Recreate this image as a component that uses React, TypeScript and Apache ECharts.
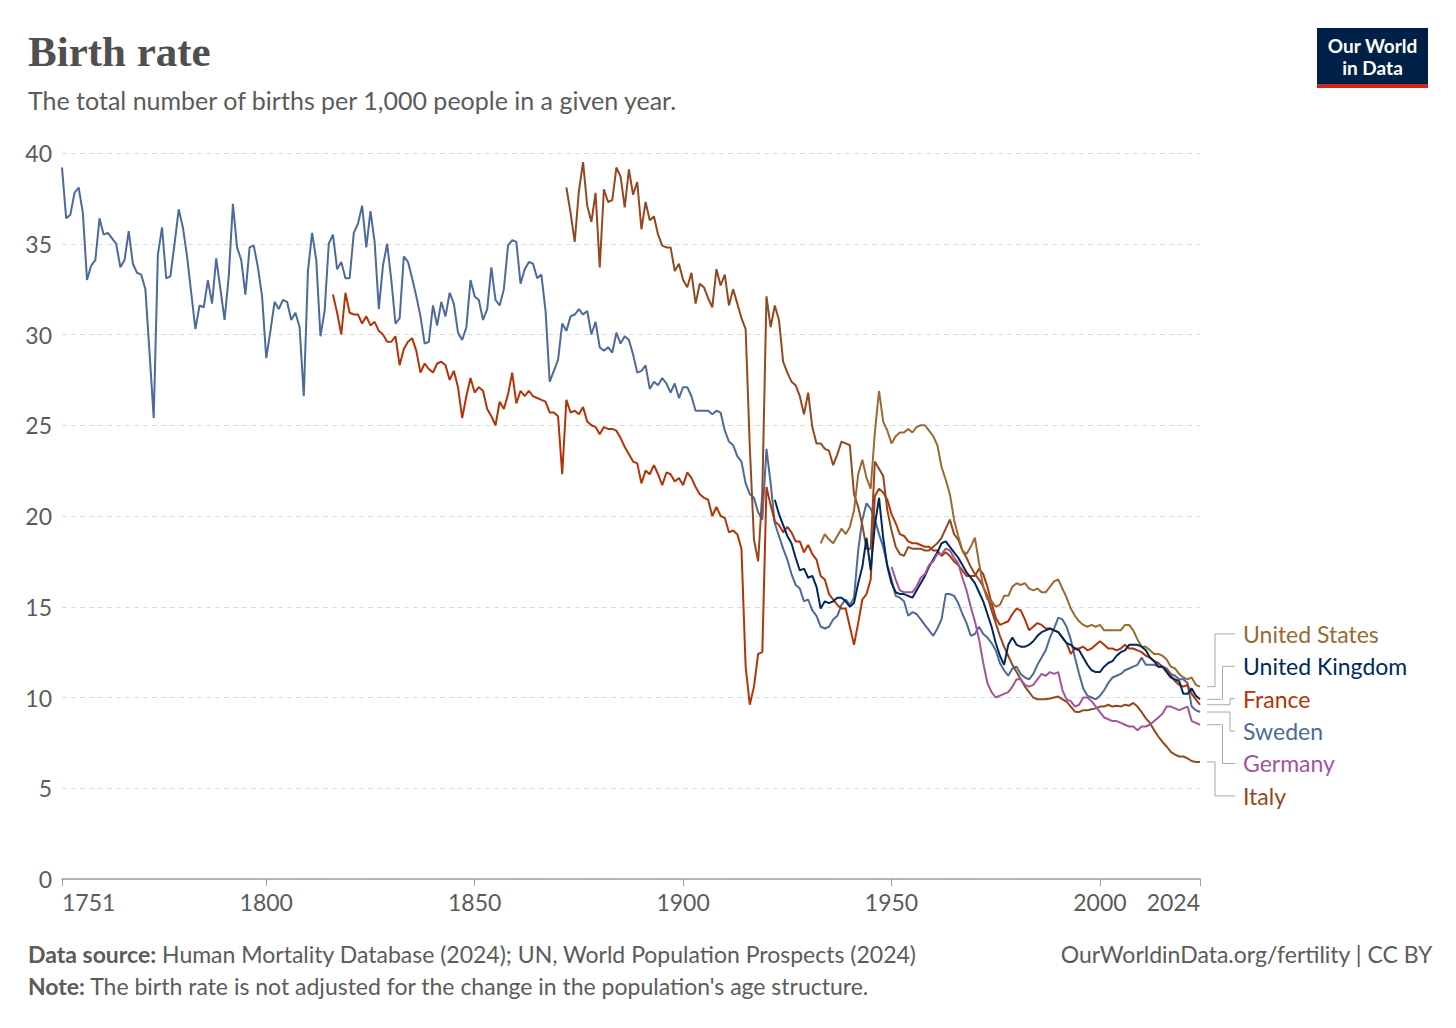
import React, { useRef, useEffect } from "react";
import * as echarts from "echarts";

// Birth rate per 1,000 people, one value per year from each start year
const swedenStart = 1751;
const sweden = [
  39.2, 36.4, 36.6, 37.8, 38.1, 36.7, 33.0, 33.8, 34.1, 36.4,
  35.5, 35.6, 35.3, 35.0, 33.7, 34.1, 35.7, 33.9, 33.4, 33.3,
  32.5, 29.0, 25.4, 34.4, 35.9, 33.1, 33.2, 35.0, 36.9, 35.9,
  34.3, 32.3, 30.3, 31.6, 31.5, 33.0, 31.7, 34.2, 32.5, 30.8,
  33.2, 37.2, 34.8, 34.1, 32.2, 34.8, 34.9, 33.7, 32.1, 28.7,
  30.2, 31.8, 31.4, 31.9, 31.8, 30.8, 31.2, 30.4, 26.6, 33.5,
  35.6, 34.1, 29.9, 31.3, 35.0, 35.5, 33.6, 34.0, 33.1, 33.1,
  35.6, 36.1, 37.1, 34.8, 36.8, 35.1, 31.4, 33.8, 35.0, 33.0,
  30.6, 30.9, 34.3, 34.0, 33.1, 32.1, 31.0, 29.5, 29.6, 31.6,
  30.5, 31.8, 31.0, 32.3, 31.7, 30.1, 29.7, 30.4, 33.0, 32.1,
  31.9, 30.8, 31.4, 33.7, 31.9, 31.6, 32.5, 34.9, 35.2, 35.1,
  32.8, 33.6, 34.0, 33.9, 33.1, 33.3, 31.3, 27.4, 28.0, 28.6,
  30.6, 30.2, 31.0, 31.1, 31.4, 31.1, 31.3, 30.0, 30.7, 29.3,
  29.1, 29.3, 29.0, 30.1, 29.5, 29.9, 29.7, 28.9, 27.9, 28.0,
  28.3, 27.0, 27.4, 27.2, 27.6, 27.3, 26.8, 27.3, 26.5, 27.1,
  27.1, 26.6, 25.8, 25.8, 25.8, 25.8, 25.6, 25.8, 25.7, 24.7,
  24.1, 23.9, 23.3, 23.0, 21.8, 21.2, 21.0, 20.2, 19.8, 23.7,
  21.8, 19.6, 18.9, 18.2, 17.6, 16.8, 16.2, 16.0, 15.3, 15.4,
  14.8, 14.5, 13.9, 13.8, 13.9, 14.3, 14.5, 15.1, 15.4, 15.1,
  15.5, 18.1, 19.8, 20.7, 20.4, 19.8, 19.0, 18.3, 17.3, 16.5,
  15.6, 15.5, 15.3, 14.5, 14.7, 14.6, 14.3, 14.0, 13.7, 13.4,
  13.8, 14.3, 15.7, 15.7, 15.6, 15.2, 14.6, 14.1, 13.4, 13.5,
  13.9, 13.5, 13.3, 13.0, 12.6, 11.9, 11.5, 11.2, 11.6, 11.7,
  11.3, 11.1, 11.0, 11.3, 11.8, 12.2, 12.6, 13.3, 13.8, 14.4,
  14.3, 13.9, 13.2, 12.2, 11.3, 10.5, 10.1, 10.0, 9.9, 10.1,
  10.4, 10.8, 11.1, 11.2, 11.3, 11.5, 11.6, 11.7, 11.8, 12.2,
  11.8, 11.8, 11.8, 11.7, 11.7, 11.6, 11.3, 11.2, 11.0, 11.0,
  10.8, 9.5, 9.3, 9.2,
];

const franceStart = 1816;
const france = [
  32.2, 31.2, 30.0, 32.3, 31.2,
  31.1, 31.1, 30.6, 31.0, 30.5, 30.7, 30.2, 30.0, 29.6, 29.6,
  29.9, 28.3, 29.2, 29.6, 29.8, 29.1, 27.9, 28.4, 28.1, 27.9,
  28.4, 28.5, 28.3, 27.5, 28.0, 27.1, 25.4, 26.6, 27.6, 26.8,
  27.1, 26.9, 25.9, 25.5, 25.0, 26.3, 25.9, 26.7, 27.9, 26.2,
  26.9, 26.6, 26.9, 26.6, 26.5, 26.4, 26.3, 25.7, 25.7, 25.5,
  22.3, 26.4, 25.7, 25.8, 25.6, 26.0, 25.2, 25.0, 24.9, 24.5,
  24.9, 24.8, 24.8, 24.7, 24.3, 23.8, 23.4, 23.0, 22.9, 21.8,
  22.5, 22.3, 22.8, 22.3, 21.7, 22.4, 22.3, 21.9, 22.1, 21.7,
  22.4, 22.1, 21.6, 21.2, 21.0, 20.9, 20.0, 20.5, 20.0, 19.9,
  19.1, 19.2, 19.0, 18.2, 11.7, 9.6, 10.6, 12.4, 12.5, 21.6,
  20.6, 19.7, 19.5, 19.1, 19.4, 19.1, 18.6, 18.6, 18.0, 18.4,
  17.9, 17.6, 16.7, 16.5, 15.7, 15.4, 15.1, 14.9, 14.9, 13.9,
  12.9, 14.1, 15.4, 15.7, 16.5, 21.1, 21.5, 21.3, 20.9, 20.1,
  19.6, 19.0, 18.9, 18.6, 18.5, 18.5, 18.4, 18.3, 18.3, 18.1,
  18.1, 17.8, 18.0, 17.8, 17.5, 17.3, 17.0, 16.7, 16.7, 16.7,
  17.1, 16.8, 16.1, 15.2, 14.4, 14.0, 14.1, 14.2, 14.6, 14.9,
  14.8, 14.3, 13.7, 13.9, 14.1, 14.0, 13.8, 13.8, 13.7, 13.6,
  13.3, 13.0, 12.4, 12.7, 12.7, 12.8, 12.6, 12.7, 12.9, 13.1,
  12.9, 12.7, 12.7, 12.6, 12.7, 12.9, 12.7, 12.7, 12.6, 12.5,
  12.3, 12.2, 12.0, 11.9, 11.7, 11.5, 11.2, 10.9, 10.7, 10.6,
  10.7, 10.2, 9.9, 9.6,
];

const italyStart = 1872;
const italy = [
  38.1, 36.7, 35.1, 37.9, 39.5, 37.1, 36.2, 37.8, 33.7,
  38.0, 37.3, 37.4, 39.2, 38.7, 37.0, 39.1, 37.7, 38.4, 35.8,
  37.3, 36.3, 36.5, 35.5, 34.9, 34.8, 34.8, 33.5, 33.9, 33.0,
  32.6, 33.4, 31.7, 32.8, 32.6, 32.0, 31.5, 33.6, 32.7, 33.3,
  31.6, 32.5, 31.7, 30.9, 30.3, 23.8, 18.7, 17.5, 21.3, 32.1,
  30.4, 31.6, 30.8, 28.5, 27.9, 27.4, 27.2, 26.6, 25.6, 26.8,
  24.9, 24.0, 24.0, 23.7, 23.6, 22.8, 23.4, 24.1, 24.0, 23.9,
  21.2, 20.5, 19.5, 18.2, 18.2, 23.0, 22.6, 22.2, 20.3, 19.2,
  18.3, 17.9, 17.8, 18.3, 18.2, 18.2, 18.2, 18.1, 18.1, 18.3,
  18.5, 18.8, 19.3, 19.8, 19.0, 18.7, 18.1, 17.7, 17.2, 16.8,
  16.5, 16.1, 15.6, 14.8, 14.1, 13.4, 12.8, 12.3, 11.8, 11.4,
  11.0, 10.6, 10.3, 10.0, 9.9, 9.9, 9.9, 9.95, 10.0, 10.05,
  9.9, 9.77, 9.5, 9.22, 9.2, 9.3, 9.3, 9.35, 9.4, 9.5,
  9.5, 9.6, 9.5, 9.55, 9.5, 9.6, 9.55, 9.7, 9.5, 9.2,
  8.85, 8.6, 8.2, 7.85, 7.55, 7.3, 7.0, 6.85, 6.75, 6.75,
  6.65, 6.5, 6.45, 6.45,
];

const usStart = 1933;
const unitedStates = [
  18.5, 19.0, 18.7, 18.5, 18.9, 19.3, 19.0, 19.4,
  20.3, 22.3, 23.1, 22.1, 21.5, 24.6, 26.9, 25.2, 24.7, 24.0,
  24.4, 24.6, 24.6, 24.8, 24.6, 24.9, 25.0, 25.0, 24.7, 24.4,
  23.9, 22.7, 22.0, 21.2, 19.8, 18.9, 18.1, 17.9, 18.3, 18.8,
  17.4, 16.1, 15.4, 15.3, 15.0, 15.1, 15.6, 15.6, 16.1, 16.3,
  16.2, 16.3, 16.0, 15.9, 16.0, 15.8, 15.8, 16.1, 16.4, 16.5,
  16.0, 15.5, 14.9, 14.5, 14.2, 14.0, 13.9, 14.0, 13.9, 14.0,
  13.7, 13.7, 13.7, 13.7, 13.7, 14.0, 14.0, 13.7, 13.2, 12.8,
  12.8, 12.6, 12.4, 12.4, 12.3, 12.1, 11.7, 11.6, 11.3, 11.1,
  11.0, 11.1, 10.7, 10.6,
];

const ukStart = 1922;
const unitedKingdom = [
  20.9, 20.1, 19.5, 18.9, 18.5, 17.7, 17.0, 17.1, 16.6,
  16.7, 16.1, 14.9, 15.3, 15.2, 15.3, 15.5, 15.5, 15.3, 15.0,
  15.2, 16.3, 17.2, 18.8, 17.0, 19.5, 21.0, 18.8, 17.2, 16.3,
  15.8, 15.7, 15.7, 15.6, 15.5, 15.9, 16.3, 16.7, 17.2, 17.6,
  18.0, 18.5, 18.6, 18.3, 18.0, 17.7, 17.3, 16.9, 16.6, 16.3,
  15.8, 15.3, 14.6, 13.9, 13.0, 12.3, 11.8, 12.9, 13.3, 12.9,
  12.8, 12.8, 12.9, 13.1, 13.4, 13.6, 13.7, 13.8, 13.7, 13.6,
  13.3, 13.0, 12.9, 12.7, 12.6, 12.2, 11.8, 11.5, 11.4, 11.4,
  11.7, 11.9, 12.0, 12.3, 12.5, 12.6, 12.9, 12.9, 12.9, 12.8,
  12.6, 12.2, 12.0, 11.7, 11.7, 11.4, 11.1, 11.0, 10.9, 10.2,
  10.2, 10.5, 10.1, 9.9,
];

const germanyStart = 1950;
const germany = [
  17.2, 16.5, 15.9, 15.8, 15.8, 15.8, 16.1, 16.6, 16.8, 17.3, 17.5,
  17.9, 17.9, 18.2, 18.1, 17.7, 17.4, 16.6, 15.9, 15.0, 14.2,
  13.2, 11.9, 10.8, 10.3, 10.0, 10.1, 10.2, 10.3, 10.6, 11.0,
  11.0, 10.7, 10.6, 10.7, 11.0, 11.3, 11.2, 11.4, 11.3, 11.4,
  10.4, 9.9, 9.8, 9.5, 9.6, 10.0, 10.0, 9.8, 9.5, 9.2,
  8.9, 8.8, 8.7, 8.7, 8.6, 8.5, 8.4, 8.4, 8.2, 8.4,
  8.4, 8.5, 8.7, 8.9, 9.1, 9.5, 9.5, 9.4, 9.3, 9.4,
  9.5, 8.7, 8.6, 8.5,
];

const xTicks = [1751, 1800, 1850, 1900, 1950, 2000, 2024];

const countries = [
  { name: "Sweden", start: swedenStart, values: sweden, color: "#4C6A9C" },
  { name: "France", start: franceStart, values: france, color: "#B13507" },
  { name: "Italy", start: italyStart, values: italy, color: "#93491F" },
  { name: "United States", start: usStart, values: unitedStates, color: "#9A6A33" },
  { name: "United Kingdom", start: ukStart, values: unitedKingdom, color: "#00295B" },
  { name: "Germany", start: germanyStart, values: germany, color: "#A2559C" },
];

const FONT = "Lato, 'Noto Sans', sans-serif";
const GREY = "#5b5b5b";

function headerGraphics(): any[] {
  return [
    {
      type: "text",
      left: 28,
      top: 30,
      style: {
        text: "Birth rate",
        font: "bold 43px 'Liberation Serif', 'DejaVu Serif', serif",
        fill: "#4f4f4f",
      },
    },
    {
      type: "text",
      left: 28,
      top: 87,
      style: {
        text: "The total number of births per 1,000 people in a given year.",
        font: `25px ${FONT}`,
        fill: GREY,
      },
    },
    {
      type: "group",
      right: 28,
      top: 28,
      children: [
        { type: "rect", shape: { x: 0, y: 0, width: 111, height: 60 }, style: { fill: "#002147" } },
        { type: "rect", shape: { x: 0, y: 56, width: 111, height: 4 }, style: { fill: "#CE261E" } },
        {
          type: "text",
          x: 55.5,
          y: 17.5,
          style: { text: "Our World", font: `bold 19px ${FONT}`, fill: "#fff", align: "center", verticalAlign: "middle" },
        },
        {
          type: "text",
          x: 55.5,
          y: 39.5,
          style: { text: "in Data", font: `bold 19px ${FONT}`, fill: "#fff", align: "center", verticalAlign: "middle" },
        },
      ],
    },
    {
      type: "text",
      left: 28,
      top: 942,
      style: {
        text: "{b|Data source:} Human Mortality Database (2024); UN, World Population Prospects (2024)",
        font: `23px ${FONT}`,
        fill: GREY,
        rich: { b: { font: `bold 23px ${FONT}`, fill: GREY } },
      },
    },
    {
      type: "text",
      left: 28,
      top: 974,
      style: {
        text: "{b|Note:} The birth rate is not adjusted for the change in the population's age structure.",
        font: `23px ${FONT}`,
        fill: GREY,
        rich: { b: { font: `bold 23px ${FONT}`, fill: GREY } },
      },
    },
    {
      type: "text",
      right: 23,
      top: 942,
      style: { text: "OurWorldinData.org/fertility | CC BY", font: `23px ${FONT}`, fill: GREY },
    },
  ];
}

// Line-end labels: pushed apart into a block when they overlap, with elbow connectors
function labelGraphics(chart: echarts.ECharts): any[] {
  const gap = 32.4;
  const ends = countries
    .map((c) => {
      const last = c.values.length - 1;
      const [px, py] = chart.convertToPixel({ gridIndex: 0 }, [c.start + last, c.values[last]]) as number[];
      return { name: c.name, color: c.color, px, py };
    })
    .sort((a, b) => a.py - b.py);

  let clusters = ends.map((e) => ({ items: [e], center: e.py }));
  let merged = true;
  while (merged) {
    merged = false;
    for (let i = 0; i < clusters.length - 1; i++) {
      const a = clusters[i];
      const b = clusters[i + 1];
      const aBottom = a.center + ((a.items.length - 1) * gap) / 2;
      const bTop = b.center - ((b.items.length - 1) * gap) / 2;
      if (bTop - aBottom < gap) {
        const items = [...a.items, ...b.items];
        const center = items.reduce((s, e) => s + e.py, 0) / items.length;
        clusters.splice(i, 2, { items, center });
        merged = true;
        break;
      }
    }
  }

  const out: any[] = [];
  for (const cl of clusters) {
    const n = cl.items.length;
    cl.items.forEach((e, k) => {
      const ly = cl.center + (k - (n - 1) / 2) * gap;
      const depth = Math.min(k, n - 1 - k);
      const ex = e.px + 15 + depth * 7.5;
      out.push({
        type: "polyline",
        silent: true,
        shape: { points: [[e.px + 7, e.py], [ex, e.py], [ex, ly], [e.px + 35, ly]] },
        style: { stroke: "#a8a8a8", lineWidth: 1, fill: "none" },
      });
      out.push({
        type: "text",
        x: e.px + 43,
        y: ly,
        style: { text: e.name, font: `23px ${FONT}`, fill: e.color, verticalAlign: "middle" },
      });
    });
  }
  return out;
}

export default function App() {
  const chartRef = useRef<HTMLDivElement>(null);

  useEffect(() => {
    document.body.style.margin = "0";
    if (!chartRef.current) return;
    const chart = echarts.init(chartRef.current, undefined, { renderer: "svg" });

    const option: any = {
      animation: false,
      backgroundColor: "#fff",
      textStyle: { fontFamily: FONT },
      grid: { left: 62, right: 256, top: 153, bottom: 149 },
      xAxis: {
        type: "value",
        min: 1751,
        max: 2024,
        axisLine: { show: true, lineStyle: { color: "#a0a0a0", width: 1.5 } },
        axisTick: { show: true, length: 7, customValues: xTicks, lineStyle: { color: "#a0a0a0" } },
        axisLabel: {
          customValues: xTicks,
          color: GREY,
          fontSize: 23,
          fontFamily: FONT,
          margin: 11,
          alignMinLabel: "left",
          alignMaxLabel: "right",
          formatter: (v: number) => String(v),
        },
        splitLine: { show: false },
      },
      yAxis: {
        type: "value",
        min: 0,
        max: 40,
        interval: 5,
        axisLine: { show: false },
        axisTick: { show: false },
        axisLabel: { color: GREY, fontSize: 23, fontFamily: FONT, margin: 10 },
        splitLine: { lineStyle: { color: "#dcdcdc", type: [5, 4] } },
      },
      series: countries.map((c) => ({
        name: c.name,
        type: "line",
        data: c.values.map((v, i) => [c.start + i, v]),
        symbol: "none",
        showSymbol: false,
        lineStyle: { width: 2, color: c.color },
        itemStyle: { color: c.color },
        silent: true,
      })),
      graphic: headerGraphics(),
    };

    chart.setOption(option);
    chart.setOption({ graphic: [...headerGraphics(), ...labelGraphics(chart)] }, { replaceMerge: ["graphic"] });

    return () => {
      chart.dispose();
    };
  }, []);

  return <div ref={chartRef} style={{ width: 1456, height: 1028 }} />;
}
